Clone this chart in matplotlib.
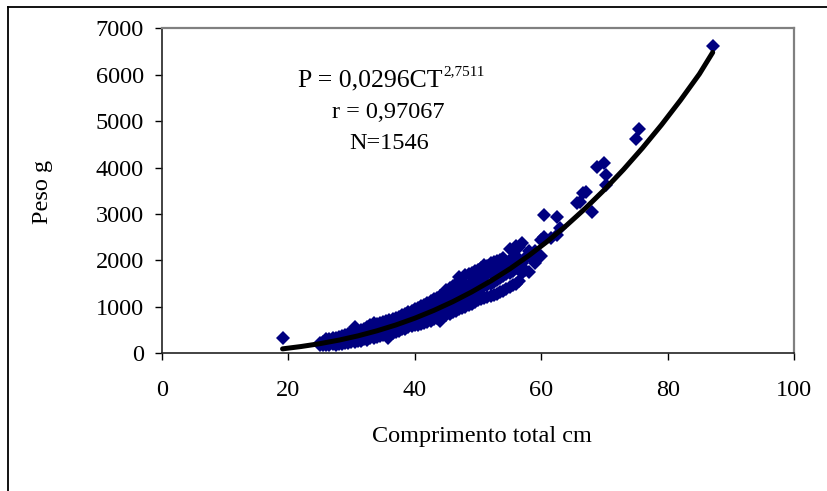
import matplotlib
matplotlib.use("Agg")
import matplotlib.pyplot as plt
from matplotlib.lines import Line2D

plt.rcParams['font.family'] = ['Liberation Serif', 'DejaVu Serif']

# comprimento total (cm) and peso (g), read from the cloud of points
length_cm = [
    19.2,
    25.0, 25.0, 25.5, 25.5,
    26.0, 26.0, 26.0, 26.5, 26.5, 26.5,
    27.0, 27.0, 27.0, 27.5, 27.5, 27.5,
    28.0, 28.0, 28.0, 28.5, 28.5, 28.5,
    29.0, 29.0, 29.0, 29.5, 29.5, 29.5, 29.5,
    30.0, 30.0, 30.0, 30.0, 30.5, 30.5, 30.5, 30.5,
    31.0, 31.0, 31.0, 31.0, 31.5, 31.5, 31.5, 31.5,
    32.0, 32.0, 32.0, 32.0, 32.5, 32.5, 32.5, 32.5,
    33.0, 33.0, 33.0, 33.0, 33.5, 33.5, 33.5, 33.5,
    34.0, 34.0, 34.0, 34.0, 34.5, 34.5, 34.5, 34.5,
    35.0, 35.0, 35.0, 35.0, 35.5, 35.5, 35.5, 35.5, 35.8,
    36.0, 36.0, 36.0, 36.0, 36.5, 36.5, 36.5, 36.5,
    37.0, 37.0, 37.0, 37.0, 37.5, 37.5, 37.5, 37.5,
    38.0, 38.0, 38.0, 38.0, 38.5, 38.5, 38.5, 38.5,
    39.0, 39.0, 39.0, 39.0, 39.5, 39.5, 39.5, 39.5,
    40.0, 40.0, 40.0, 40.0, 40.5, 40.5, 40.5, 40.5,
    41.0, 41.0, 41.0, 41.0, 41.5, 41.5, 41.5, 41.5,
    42.0, 42.0, 42.0, 42.0, 42.5, 42.5, 42.5, 42.5,
    43.0, 43.0, 43.0, 43.0, 43.5, 43.5, 43.5, 43.5,
    44.0, 44.0, 44.0, 44.0, 44.0, 44.5, 44.5, 44.5, 44.5,
    45.0, 45.0, 45.0, 45.0, 45.5, 45.5, 45.5, 45.5,
    46.0, 46.0, 46.0, 46.0, 46.5, 46.5, 46.5, 46.5,
    47.0, 47.0, 47.0, 47.0, 47.5, 47.5, 47.5, 47.5,
    48.0, 48.0, 48.0, 48.0, 48.5, 48.5, 48.5, 48.5,
    49.0, 49.0, 49.0, 49.0, 49.5, 49.5, 49.5, 49.5,
    50.0, 50.0, 50.0, 50.0, 50.5, 50.5, 50.5, 50.5,
    51.0, 51.0, 51.0, 51.0, 51.5, 51.5, 51.5, 51.5,
    52.0, 52.0, 52.0, 52.0, 52.5, 52.5, 52.5, 52.5,
    53.0, 53.0, 53.0, 53.0, 53.5, 53.5, 53.5, 53.5,
    54.0, 54.0, 54.0, 54.0, 54.5, 54.5, 54.5,
    55.0, 55.0, 55.0, 55.0, 55.5, 55.5, 55.5,
    56.0, 56.0, 56.0, 56.0, 56.5, 56.5, 56.5,
    57.0, 57.0, 57.0, 57.5, 57.5,
    58.0, 58.0, 58.0, 59.0, 59.0,
    60.0, 60.0, 60.5, 60.5, 61.5, 62.5, 62.5, 63.0,
    65.6, 66.1, 66.6, 67.1, 68.0, 68.8, 69.9, 70.2, 70.3,
    75.0, 75.5, 87.1,
]
weight_g = [
    323,
    180, 220, 170, 250,
    190, 260, 300, 180, 240, 300,
    200, 270, 330, 190, 260, 340,
    210, 280, 350, 200, 290, 370,
    230, 310, 400, 220, 300, 380, 420,
    240, 320, 400, 450, 250, 340, 420, 570,
    270, 350, 430, 480, 260, 370, 460, 500,
    300, 390, 470, 530, 290, 400, 490, 560,
    330, 420, 510, 600, 340, 440, 540, 650,
    360, 460, 560, 640, 370, 480, 580, 660,
    400, 500, 600, 680, 390, 520, 620, 690, 330,
    420, 540, 640, 720, 440, 560, 660, 740,
    450, 580, 690, 760, 480, 600, 710, 790,
    520, 630, 730, 820, 530, 650, 760, 850,
    560, 680, 790, 880, 580, 700, 820, 910,
    600, 730, 850, 950, 620, 760, 880, 980,
    640, 790, 910, 1010, 660, 810, 940, 1050,
    680, 840, 970, 1090, 700, 870, 1010, 1120,
    730, 900, 1040, 1160, 760, 930, 1080, 1200,
    690, 790, 960, 1110, 1240, 800, 990, 1150, 1280,
    820, 1020, 1190, 1360, 850, 1050, 1230, 1400,
    880, 1090, 1270, 1450, 910, 1120, 1310, 1500,
    950, 1160, 1350, 1650, 980, 1190, 1390, 1560,
    1000, 1230, 1430, 1680, 1040, 1260, 1470, 1700,
    1070, 1300, 1510, 1740, 1100, 1330, 1550, 1780,
    1150, 1370, 1590, 1800, 1170, 1400, 1620, 1830,
    1200, 1440, 1660, 1900, 1220, 1470, 1700, 1880,
    1240, 1500, 1740, 1950, 1260, 1540, 1780, 1960,
    1280, 1580, 1820, 1990, 1310, 1620, 1860, 2020,
    1340, 1660, 1900, 2060, 1380, 1700, 1950,
    1420, 1740, 2000, 2250, 1480, 1780, 2050,
    1500, 1830, 2100, 2320, 1560, 1880, 2300,
    1720, 1950, 2370, 1800, 2050,
    1760, 2100, 2200, 1950, 2200,
    2100, 2450, 2500, 2980, 2480, 2550, 2940, 2700,
    3230, 3265, 3450, 3480, 3050, 4006, 4105, 3840, 3625,
    4610, 4825, 6620,
]

# trend line P = 0,0296 CT^2,7511
trend_x = [19.1, 22, 25, 28, 31, 34, 37, 40, 43, 46, 49, 52, 55, 58,
           61, 64, 67, 70, 73, 76, 79, 82, 85, 87.1]
trend_y = [96, 146, 208, 284, 375, 484, 610, 756, 923, 1111, 1322, 1557,
           1816, 2102, 2415, 2756, 3126, 3526, 3958, 4422, 4919, 5450,
           6016, 6480]

x_ticks = [0, 20, 40, 60, 80, 100]
y_ticks = [0, 1000, 2000, 3000, 4000, 5000, 6000, 7000]

fig = plt.figure(figsize=(8.28, 4.91), dpi=100)
ax = fig.add_axes([0.1953, 0.2804, 0.764, 0.662])

ax.plot(length_cm, weight_g, 'D', color='#000080', markersize=7.3,
        markeredgewidth=0, zorder=2)
ax.plot(trend_x, trend_y, '-', color='black', linewidth=3.6,
        solid_capstyle='round', zorder=3)

ax.set_xlim(0, 100)
ax.set_ylim(0, 7000)
ax.set_xticks(x_ticks)
ax.set_yticks(y_ticks)
ax.tick_params(direction='out', length=5, width=1, labelsize=17.5,
               colors='black')
ax.tick_params(axis='x', pad=14)
ax.tick_params(axis='y', pad=8)

for side in ['left', 'bottom']:
    ax.spines[side].set_color('#222222')
    ax.spines[side].set_linewidth(1.2)
for side in ['top', 'right']:
    ax.spines[side].set_color('#808080')
    ax.spines[side].set_linewidth(1.6)

ax.set_xlabel('Comprimento total cm', fontsize=17.5)
ax.xaxis.set_label_coords(0.506, -0.224)
ax.set_ylabel('Peso g', fontsize=17.5)
ax.yaxis.set_label_coords(-0.172, 0.496)

# equation annotation
eq = ax.text(21.6, 5743, 'P = 0,0296CT', fontsize=18.5, ha='left',
             va='baseline')
ax.annotate('2,7511', xy=(1, 1), xycoords=eq, xytext=(0.5, 3.5),
            textcoords='offset points', fontsize=11, ha='left', va='top')
ax.text(35.9, 5068, 'r = 0,97067', fontsize=17.5, ha='center',
        va='baseline')
ax.text(35.9, 4400, 'N=1546', fontsize=17.5, ha='center', va='baseline')

# outer chart border (only top and left edges fall inside the picture)
fig.add_artist(Line2D([8.3 / 828, 1.0], [1 - 7.3 / 491, 1 - 7.3 / 491],
                      transform=fig.transFigure, color='black',
                      linewidth=1.3))
fig.add_artist(Line2D([8.3 / 828, 8.3 / 828], [0.0, 1 - 7.3 / 491],
                      transform=fig.transFigure, color='black',
                      linewidth=1.3))

fig.savefig('out.png', dpi=100)
